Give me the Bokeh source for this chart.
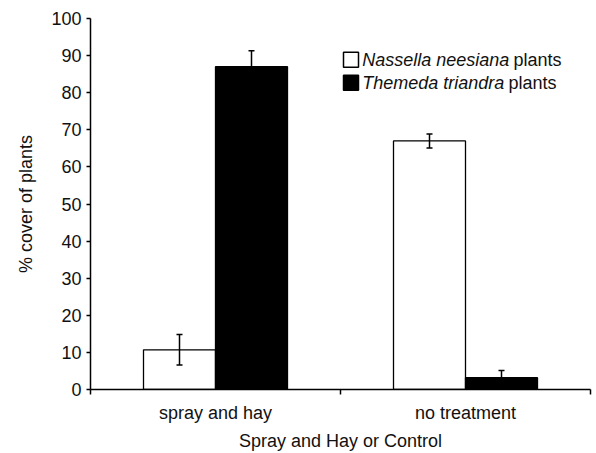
from bokeh.plotting import figure
from bokeh.models import Range1d, FixedTicker, Whisker, ColumnDataSource, TeeHead, Label
from bokeh.transform import dodge
from bokeh.embed import file_html
from bokeh.resources import INLINE
import numpy as np

categories = ["spray and hay", "no treatment"]
nassella = [10.7, 67.0]
nassella_err = [4.1, 1.9]
themeda = [87.0, 3.2]
themeda_err = [4.3, 1.9]
series_names = ["Nassella neesiana", "Themeda triandra"]
y_ticks = list(range(0, 101, 10))

FONT = "Liberation Sans"
FS = "18px"

centers = np.arange(len(categories)) + 0.5
src = ColumnDataSource(dict(
    x=centers,
    n=nassella, n_lo=np.array(nassella) - np.array(nassella_err), n_hi=np.array(nassella) + np.array(nassella_err),
    t=themeda, t_lo=np.array(themeda) - np.array(themeda_err), t_hi=np.array(themeda) + np.array(themeda_err),
))

p = figure(width=596, height=453, output_backend="svg", toolbar_location=None,
           x_range=Range1d(0, len(categories)), y_range=Range1d(0, 100),
           min_border_left=90, min_border_right=6, min_border_top=18, min_border_bottom=64)
p.xgrid.visible = False
p.ygrid.visible = False
p.outline_line_color = None
p.background_fill_color = "white"

bw = 0.288
p.vbar(x=dodge("x", -bw / 2, range=p.x_range), top="n", width=bw, source=src,
       fill_color="white", line_color="black", line_width=1.3)
p.vbar(x=dodge("x", bw / 2, range=p.x_range), top="t", width=bw, source=src,
       fill_color="black", line_color="black", line_width=1.3)

for key in ["n", "t"]:
    off = -bw / 2 if key == "n" else bw / 2
    w = Whisker(base=dodge("x", off, range=p.x_range), lower=key + "_lo", upper=key + "_hi", source=src,
                line_color="black", line_width=1.5, level="annotation",
                upper_head=TeeHead(size=6, line_color="black", line_width=1.5),
                lower_head=TeeHead(size=6, line_color="black", line_width=1.5))
    p.add_layout(w)

# axes
p.xaxis.ticker = FixedTicker(ticks=list(centers), minor_ticks=list(range(len(categories) + 1)))
p.xaxis.major_label_overrides = {float(c): lab for c, lab in zip(centers, categories)}
p.xaxis.major_tick_out = 0
p.xaxis.major_tick_in = 0
p.xaxis.minor_tick_out = 5
p.xaxis.minor_tick_in = 0
p.xaxis.minor_tick_line_color = "black"
p.xaxis.minor_tick_line_width = 1.5
p.xaxis.axis_label = "Spray and Hay or Control"
p.xaxis.major_label_standoff = 8

p.yaxis.ticker = FixedTicker(ticks=y_ticks)
p.yaxis.minor_tick_line_color = None
p.yaxis.major_tick_out = 4
p.yaxis.major_tick_in = 0
p.yaxis.axis_label = "% cover of plants"
p.yaxis.major_label_standoff = 5
p.yaxis.axis_label_standoff = 12

for ax in [p.xaxis[0], p.yaxis[0]]:
    ax.axis_line_color = "black"
    ax.axis_line_width = 1.5
    ax.major_tick_line_color = "black"
    ax.major_tick_line_width = 1.5
    ax.major_label_text_font = FONT
    ax.major_label_text_font_size = FS
    ax.major_label_text_color = "#111111"
    ax.axis_label_text_font = FONT
    ax.axis_label_text_font_size = FS
    ax.axis_label_text_font_style = "normal"
    ax.axis_label_text_color = "#111111"
p.xaxis.axis_label_standoff = 5

# legend (manual, mixed italic / roman)
leg_y = [88.9, 82.7]
fills = ["white", "black"]
p.scatter(x=[1.042, 1.042], y=leg_y, marker="square", size=15,
          fill_color=fills, line_color="black", line_width=1.5)
plants_x = [1.692, 1.672]
for name, yy, px in zip(series_names, leg_y, plants_x):
    p.add_layout(Label(x=1.087, y=yy, text=name, text_font=FONT, text_font_size=FS,
                       text_font_style="italic", text_baseline="middle", text_color="#111111"))
    p.add_layout(Label(x=px, y=yy, text="plants", text_font=FONT,
                       text_font_size=FS, text_baseline="middle", text_color="#111111"))

open("out.html", "w").write(file_html(p, INLINE))
